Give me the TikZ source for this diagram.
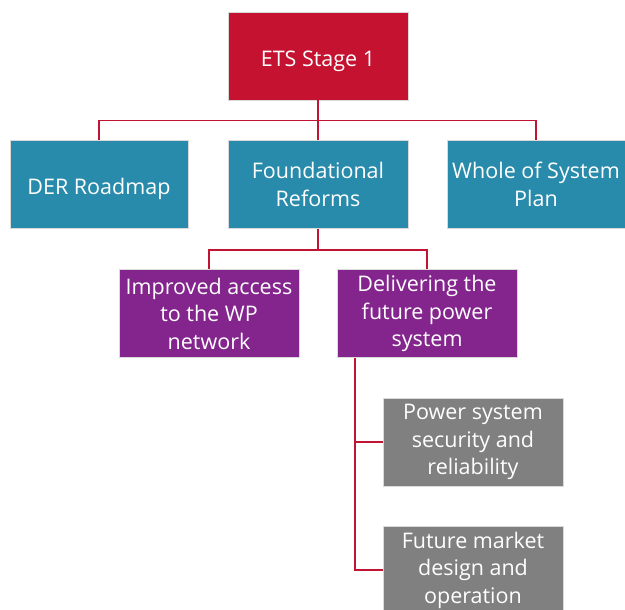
\documentclass[tikz,border=0pt]{standalone}
\usepackage{fontspec}
\setmainfont{Open Sans}
\definecolor{etsred}{RGB}{196,18,48}
\definecolor{linered}{RGB}{192,20,50}
\definecolor{teal}{RGB}{41,139,171}
\definecolor{purp}{RGB}{132,37,142}
\definecolor{greybox}{RGB}{128,128,128}
\tikzset{
  box/.style={draw=white!85!black, line width=0.6pt, text=white, align=center,
    minimum width=180pt, minimum height=88pt, inner sep=0pt,
    font=\fontsize{21.5}{27.5}\selectfont},
  redbox/.style={box, fill=etsred},
  tealbox/.style={box, fill=teal, minimum width=178pt},
  purpbox/.style={box, fill=purp},
  greybx/.style={box, fill=greybox},
  conn/.style={draw=linered, line width=1.5pt}
}
\begin{document}
\begin{tikzpicture}[x=1pt,y=1pt]
\useasboundingbox (0,0) rectangle (625,-610);
\clip (0,0) rectangle (625,-610);
\node[redbox] (ets) at (318,-56) {\raisebox{-10.5pt}[0pt][0pt]{ETS Stage 1}};
\node[tealbox] (der) at (99,-184.5) {\raisebox{-9.5pt}[0pt][0pt]{DER Roadmap}};
\node[box, fill=teal, yshift=0pt] (found) at (318,-184.5) {\raisebox{-2pt}[0pt][0pt]{}Foundational\\Reforms};
\node[tealbox] (whole) at (536,-184.5) {Whole of System\\Plan};
\node[purpbox] (impr) at (209,-313.5) {Improved access\\to the WP\\network};
\node[purpbox] (deliv) at (427,-313.5) {Delivering the\\future power\\system};
\node[greybx] (power) at (473,-442) {Power system\\security and\\reliability};
\node[greybx] (fut) at (473,-570) {Future market\\design and\\operation};
\coordinate (j1) at (318,-120.5);
\coordinate (j2) at (318,-250);
\coordinate (dv) at (355,-358);
\draw[conn] (ets.south) -- (j1);
\draw[conn] (j1) -| (der.north);
\draw[conn] (j1) -| (whole.north);
\draw[conn] (j1) -- (found.north);
\draw[conn] (found.south) -- (j2);
\draw[conn] (j2) -| (impr.north);
\draw[conn] (j2) -| (deliv.north);
\draw[conn] (dv) |- (power.west);
\draw[conn] (dv) |- (fut.west);
\end{tikzpicture}
\end{document}
